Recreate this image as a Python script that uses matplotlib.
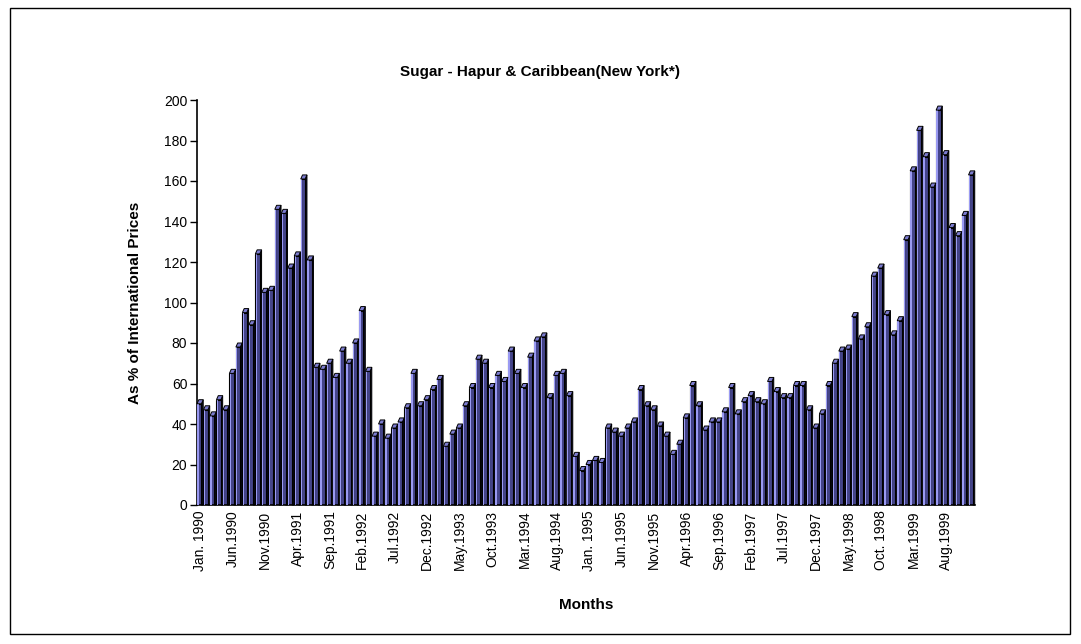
#!/usr/bin/env python3
"""
Sugar - Hapur vs Caribbean (New York) price ratio, monthly 1990-1999.
"""

import matplotlib
matplotlib.use("Agg")
import matplotlib.pyplot as plt
from matplotlib.patches import Polygon, Rectangle

plt.rcParams["font.family"] = ["Liberation Sans", "DejaVu Sans"]

# monthly values, Jan 1990 .. Dec 1999 (% of international prices)
ratio_1990 = [50, 47, 44, 52, 47, 65, 78, 95, 89, 124, 105, 106]
ratio_1991 = [146, 144, 117, 123, 161, 121, 68, 67, 70, 63, 76, 70]
ratio_1992 = [80, 96, 66, 34, 40, 33, 38, 41, 48, 65, 49, 52]
ratio_1993 = [57, 62, 29, 35, 38, 49, 58, 72, 70, 58, 64, 61]
ratio_1994 = [76, 65, 58, 73, 81, 83, 53, 64, 65, 54, 24, 17]
ratio_1995 = [20, 22, 21, 38, 36, 34, 38, 41, 57, 49, 47, 39]
ratio_1996 = [34, 25, 30, 43, 59, 49, 37, 41, 41, 46, 58, 45]
ratio_1997 = [51, 54, 51, 50, 61, 56, 53, 53, 59, 59, 47, 38]
ratio_1998 = [45, 59, 70, 76, 77, 93, 82, 88, 113, 117, 94, 84]
ratio_1999 = [91, 131, 165, 185, 172, 157, 195, 173, 137, 133, 143, 163]

values = (ratio_1990 + ratio_1991 + ratio_1992 + ratio_1993 + ratio_1994
          + ratio_1995 + ratio_1996 + ratio_1997 + ratio_1998 + ratio_1999)

tick_labels = ["Jan. 1990", "Jun.1990", "Nov.1990", "Apr.1991", "Sep.1991",
               "Feb.1992", "Jul.1992", "Dec.1992", "May.1993", "Oct.1993",
               "Mar.1994", "Aug.1994", "Jan. 1995", "Jun.1995", "Nov.1995",
               "Apr.1996", "Sep.1996", "Feb.1997", "Jul.1997", "Dec.1997",
               "May.1998", "Oct. 1998", "Mar.1999", "Aug.1999"]
tick_step = 5

FRONT = "#45458a"
LIGHT = "#9a9af2"
TOP = "#7c7cd0"
SIDE = "#0c0c20"

fig = plt.figure(figsize=(10.81, 6.44), dpi=100)
ax = fig.add_axes([197 / 1081, 1 - 505 / 644, 778 / 1081, 405 / 644])

x = list(range(len(values)))
w = 0.68
dx, dy = 0.28, 2.0
ax.bar([i - 0.5 + w / 2 for i in x], values, width=w, color=FRONT,
       edgecolor="black", linewidth=0.8, zorder=2)
ax.bar([i - 0.5 + 0.14 for i in x], values, width=0.2, color=LIGHT,
       linewidth=0, zorder=3)
for i, v in zip(x, values):
    x0 = i - 0.5
    side = Polygon([(x0 + w, 0), (x0 + w, v), (x0 + w + dx, v + dy),
                    (x0 + w + dx, 0)], closed=True, facecolor=SIDE,
                   edgecolor="black", linewidth=0.7, zorder=1, clip_on=False)
    top = Polygon([(x0, v), (x0 + w, v), (x0 + w + dx, v + dy),
                   (x0 + dx, v + dy)], closed=True, facecolor=TOP,
                  edgecolor="black", linewidth=0.7, zorder=4, clip_on=False)
    ax.add_patch(side)
    ax.add_patch(top)

ax.set_xlim(-0.5, len(values) - 0.5)
ax.set_ylim(0, 200)
ax.set_yticks(range(0, 201, 20))
ax.set_xticks(x[::tick_step])
ax.set_xticklabels(tick_labels, rotation=90, fontsize=10)
ax.tick_params(axis="x", length=0, pad=4)
ax.tick_params(axis="y", length=5, width=1, labelsize=10, pad=2)
for s in ("top", "right"):
    ax.spines[s].set_visible(False)
ax.spines["left"].set_linewidth(1.2)
ax.spines["bottom"].set_linewidth(1.2)

ax.set_ylabel("As % of International Prices", fontsize=11, fontweight="bold",
              labelpad=16)
ax.set_xlabel("Months", fontsize=11, fontweight="bold", labelpad=19)
fig.text(0.5, 1 - 72 / 644, "Sugar - Hapur & Caribbean(New York*)",
         ha="center", va="center", fontsize=11, fontweight="bold")

fig.patches.append(Rectangle((10 / 1081, 10 / 644), 1060 / 1081, 626 / 644,
                             transform=fig.transFigure, fill=False,
                             edgecolor="black", linewidth=1))

fig.savefig("out.png", dpi=100)
